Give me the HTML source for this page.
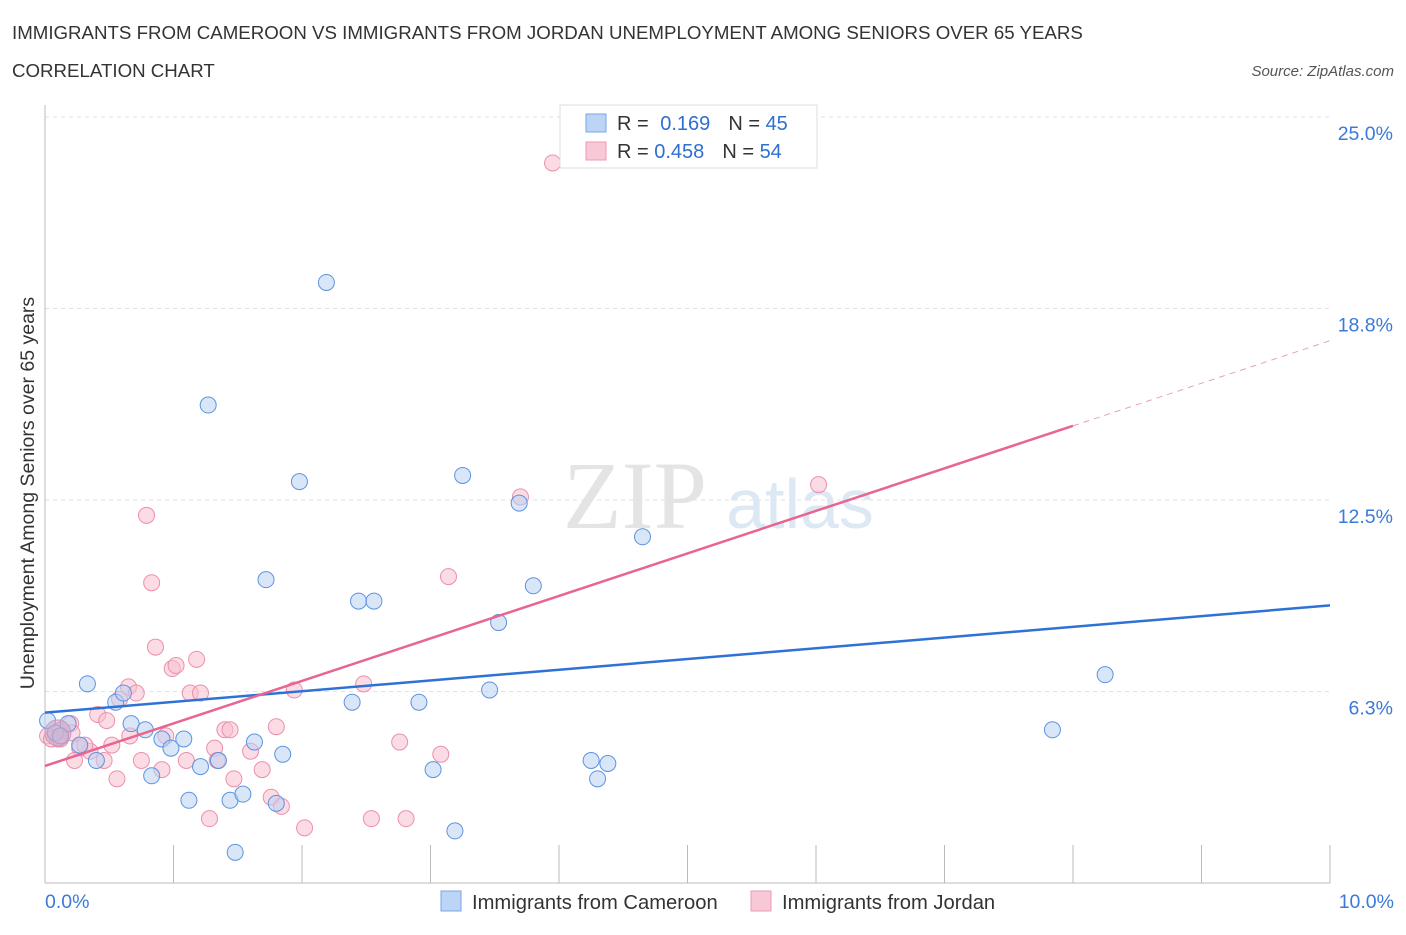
<!DOCTYPE html>
<html><head><meta charset="utf-8"><style>
body{margin:0;background:#fff;font-family:"Liberation Sans",sans-serif}
#c{position:relative;width:1406px;height:930px}
</style></head><body>
<div id="c">
<svg id="s" width="1406" height="930">
<text x="12" y="39" font-size="18.7" fill="#333">IMMIGRANTS FROM CAMEROON VS IMMIGRANTS FROM JORDAN UNEMPLOYMENT AMONG SENIORS OVER 65 YEARS</text>
<text x="12" y="77" font-size="18.7" fill="#333">CORRELATION CHART</text>
<text x="1394" y="76" font-size="15" fill="#555" font-style="italic" text-anchor="end">Source: ZipAtlas.com</text>
<text x="635" y="528" font-size="96" fill="#e4e4e4" font-family="Liberation Serif" text-anchor="middle">ZIP</text>
<text x="800" y="528" font-size="70" fill="#dde8f5" text-anchor="middle">atlas</text>
<g id="grid"></g><g id="axes"></g><g id="pts"></g><g id="lines"></g>
<text transform="translate(34,493) rotate(-90)" font-size="19.5" fill="#333" text-anchor="middle">Unemployment Among Seniors over 65 years</text>
<g>
<rect x="560" y="105" width="257" height="63" fill="#fff" stroke="#ddd"/>
<rect x="586" y="114" width="20" height="18" fill="#bcd4f5" stroke="#7aa6e6"/>
<text x="617" y="130" font-size="20" fill="#333">R = <tspan fill="#2f6fd1" dx="6">0.169</tspan><tspan dx="18">N = </tspan><tspan fill="#2f6fd1">45</tspan></text>
<rect x="586" y="142" width="20" height="18" fill="#f8c8d6" stroke="#ee9ab4"/>
<text x="617" y="158" font-size="20" fill="#333">R = <tspan fill="#2f6fd1">0.458</tspan><tspan dx="18">N = </tspan><tspan fill="#2f6fd1">54</tspan></text>
</g>
<g>
<rect x="441" y="891" width="20" height="20" fill="#bcd4f5" stroke="#7aa6e6"/>
<text x="472" y="909" font-size="20.2" fill="#333">Immigrants from Cameroon</text>
<rect x="751" y="891" width="20" height="20" fill="#f8c8d6" stroke="#ee9ab4"/>
<text x="782" y="909" font-size="20.2" fill="#333">Immigrants from Jordan</text>
</g>
</svg></div>
<script>
const yTicks=[25.0,18.8,12.5,6.3];
const yTickVals=[25,18.75,12.5,6.25];
const xTickLabels=["0.0%","10.0%"];
const blueX=[0.02,0.08,0.18,0.33,0.27,0.4,0.55,0.61,0.67,0.78,0.83,0.91,0.98,1.08,1.12,1.21,1.27,1.35,1.44,1.48,1.54,1.63,1.72,1.8,1.85,1.98,2.19,2.39,2.44,2.56,2.91,3.02,3.19,3.25,3.46,3.69,3.53,3.8,4.25,4.3,4.38,4.65,7.84,8.25,0.12];
const blueY=[5.3,4.9,5.2,6.5,4.5,4.0,5.9,6.2,5.2,5.0,3.5,4.7,4.4,4.7,2.7,3.8,15.6,4.0,2.7,1.0,2.9,4.6,9.9,2.6,4.2,13.1,19.6,5.9,9.2,9.2,5.9,3.7,1.7,13.3,6.3,12.4,8.5,9.7,4.0,3.4,3.9,11.3,5.0,6.8,4.8];
const pinkX=[0.02,0.05,0.1,0.13,0.2,0.21,0.27,0.35,0.41,0.46,0.48,0.56,0.58,0.65,0.71,0.75,0.79,0.83,0.86,0.91,0.94,0.99,1.02,1.1,1.13,1.18,1.21,1.28,1.32,1.34,1.4,1.44,1.47,1.6,1.69,1.76,1.8,1.84,1.94,2.02,2.48,2.54,2.76,2.81,3.08,3.14,3.7,3.95,6.02,0.12,0.31,0.66,0.52,0.23];
const pinkY=[4.8,4.7,4.7,5.0,5.2,4.9,4.4,4.3,5.5,4.0,5.3,3.4,6.0,6.4,6.2,4.0,12.0,9.8,7.7,3.7,4.8,7.0,7.1,4.0,6.2,7.3,6.2,2.1,4.4,4.0,5.0,5.0,3.4,4.3,3.7,2.8,5.1,2.5,6.3,1.8,6.5,2.1,4.6,2.1,4.2,10.0,12.6,23.5,13.0,4.7,4.5,4.8,4.5,4.0];
const blueTrend=[0,5.56,10,9.06];
const pinkTrend=[0,3.82,8,14.92,10,17.7];
const NS="http://www.w3.org/2000/svg";
const X=v=>45+v*128.5, Y=v=>883-v*30.64;
function mk(t,a,p){const e=document.createElementNS(NS,t);for(const k in a)e.setAttribute(k,a[k]);p.appendChild(e);return e;}
const grid=document.getElementById('grid'),axes=document.getElementById('axes'),pts=document.getElementById('pts'),lines=document.getElementById('lines');
yTickVals.forEach((v,i)=>{
 const l=mk('line',{x1:45,x2:1330,y1:Y(v),y2:Y(v),stroke:'#e2e2e2','stroke-dasharray':'4,4'},grid);
 
 
 const t=mk('text',{x:1393,y:Y(v)+23,'font-size':19.5,fill:'#3b7ad6','text-anchor':'end'},grid);
 t.textContent=yTicks[i].toFixed(1)+'%';
 
 
});
const ax=mk('line',{x1:45,x2:1330,y1:883,y2:883,stroke:'#bbb'},axes);


const ay=mk('line',{x1:45,x2:45,y1:105,y2:883,stroke:'#bbb'},axes);


for(let i=0;i<=10;i++){const tk=mk('line',{x1:X(i),x2:X(i),y1:845,y2:883,stroke:'#bbb'},axes);
 
 }
[[0,'start',45],[10,'end',1394]].forEach((d,i)=>{const t=mk('text',{x:d[2],y:908,'font-size':19.5,fill:'#3b7ad6','text-anchor':d[1]},axes);t.textContent=xTickLabels[i];
 
 });
function dots(xs,ys,fill,stroke,name){xs.forEach((x,i)=>{const c=mk('circle',{cx:X(x),cy:Y(ys[i]),r:8,fill:fill,'fill-opacity':0.55,stroke:stroke,'stroke-width':1},pts);
 
 });}
dots(pinkX,pinkY,'#f8c0d0','#ec8fab','jordan-point');
dots(blueX,blueY,'#b9d1f3','#5c93e0','cameroon-point');
const big=mk('circle',{cx:X(0.1),cy:Y(4.9),r:13,fill:'#d4a8c8','fill-opacity':0.6,stroke:'#c799c0'},pts);


const bl=mk('line',{x1:X(blueTrend[0]),y1:Y(blueTrend[1]),x2:X(blueTrend[2]),y2:Y(blueTrend[3]),stroke:'#2f72d6','stroke-width':2.5},lines);


const pl=mk('line',{x1:X(pinkTrend[0]),y1:Y(pinkTrend[1]),x2:X(pinkTrend[2]),y2:Y(pinkTrend[3]),stroke:'#e8658f','stroke-width':2.5},lines);


const pd=mk('line',{x1:X(pinkTrend[2]),y1:Y(pinkTrend[3]),x2:X(pinkTrend[4]),y2:Y(pinkTrend[5]),stroke:'#e8a0b8','stroke-width':1,'stroke-dasharray':'6,5'},lines);


</script>
</body></html>
